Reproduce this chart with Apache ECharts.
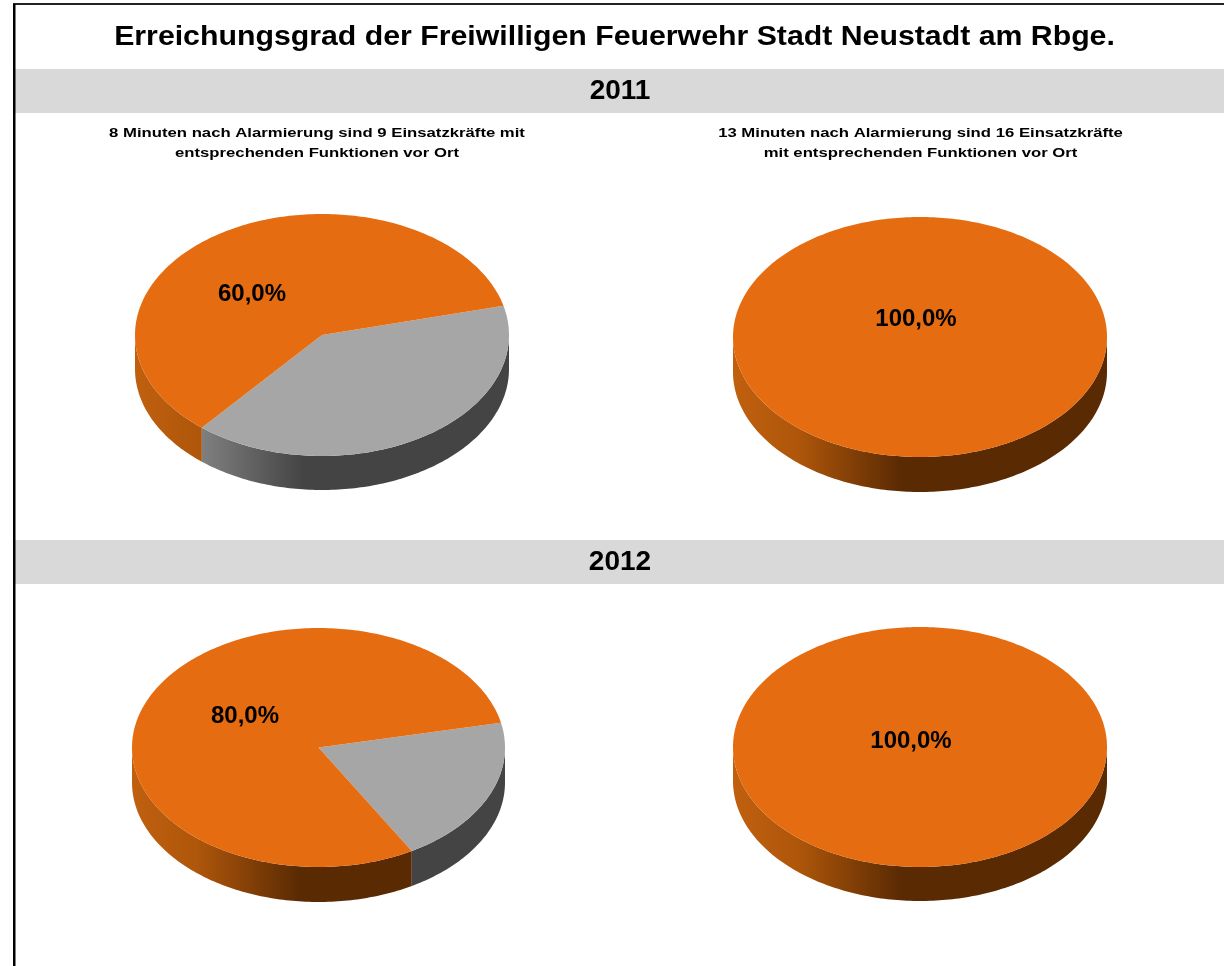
<!DOCTYPE html>
<html>
<head>
<meta charset="utf-8">
<style>html,body{margin:0;padding:0;background:#fff}#c{width:1224px;height:966px}</style>
<script src="https://cdn.jsdelivr.net/npm/echarts@6/dist/echarts.min.js"></script>
</head>
<body>
<div id="c"></div>
<script>
// ---- data ----
const chartTitle = 'Erreichungsgrad der Freiwilligen Feuerwehr Stadt Neustadt am Rbge.';
const years = ['2011', '2012'];
const captions = [
  ['8 Minuten nach Alarmierung sind 9 Einsatzkräfte mit', 'entsprechenden Funktionen vor Ort'],
  ['13 Minuten nach Alarmierung sind 16 Einsatzkräfte', 'mit entsprechenden Funktionen vor Ort']
];
const notReached = [40, 0, 20, 0];
const reached = [60, 100, 80, 100];

// ---- layout ----
const FONT = '"Liberation Sans", Arial, sans-serif';
const pieLayout = [
  {cx: 322, cy: 335, rx: 187, ry: 121, depth: 34, lx: 252, ly: 294, start: 76},
  {cx: 920, cy: 337, rx: 187, ry: 120, depth: 35, lx: 916, ly: 319, start: 76},
  {cx: 318.5, cy: 747.5, rx: 186.5, ry: 119.5, depth: 35, lx: 245, ly: 716, start: 78},
  {cx: 920, cy: 747, rx: 187, ry: 120, depth: 34, lx: 911, ly: 741, start: 78}
];
const sliceColors = [
  {top: '#A6A6A6', left: '#8C8C8C', mid: '#808080', dark: '#444444'},
  {top: '#E56C10', left: '#C0600F', mid: '#AE560A', dark: '#5A2A03'}
];

function ellipsePoint(p, deg, dy) {
  const a = deg * Math.PI / 180;
  return [p.cx + p.rx * Math.sin(a), p.cy - p.ry * Math.cos(a) + (dy || 0)];
}
function arc(p, from, to, dy) {
  const pts = [];
  const n = Math.max(1, Math.ceil(Math.abs(to - from)));
  for (let i = 0; i <= n; i++) pts.push(ellipsePoint(p, from + (to - from) * i / n, dy));
  return pts;
}

function makeRenderItem(pieIndex, rows) {
  const p = pieLayout[pieIndex];
  const total = rows.reduce((s, r) => s + r[1], 0);
  return function (params, api) {
    const idx = params.dataIndex;
    const v = api.value(1);
    if (!v) return null;
    let before = 0;
    for (let i = 0; i < idx; i++) before += rows[i][1];
    const s = p.start + before / total * 360;
    const e = s + v / total * 360;
    const col = sliceColors[api.value(0)];
    const children = [];
    const fs = Math.max(s, 90), fe = Math.min(e, 270);
    if (fe > fs) {
      const upper = arc(p, fs, fe, 0);
      const lower = arc(p, fe, fs, p.depth);
      children.push({
        type: 'polygon',
        shape: {points: upper.concat(lower)},
        style: {
          fill: new echarts.graphic.LinearGradient(p.cx - p.rx, 0, p.cx, 0, [
            {offset: 0, color: col.left},
            {offset: 0.35, color: col.mid},
            {offset: 0.9, color: col.dark},
            {offset: 1, color: col.dark}
          ], true)
        }
      });
    }
    const topPts = arc(p, s, e, 0);
    if (v < total) topPts.push([p.cx, p.cy]);
    children.push({type: 'polygon', shape: {points: topPts}, style: {fill: col.top}});
    if (api.value(0) === 1) {
      children.push({
        type: 'text', x: p.lx, y: p.ly, z2: 10,
        style: {
          text: v.toFixed(1).replace('.', ',') + '%',
          fill: '#000', font: 'bold 24px ' + FONT,
          textAlign: 'center', textVerticalAlign: 'middle'
        }
      });
    }
    return {type: 'group', children: children};
  };
}

const series = reached.map((r, i) => {
  const rows = [[0, notReached[i]], [1, r]];
  return {
    type: 'custom',
    coordinateSystem: 'none',
    silent: true,
    data: rows,
    renderItem: makeRenderItem(i, rows)
  };
});

function centeredText(text, x, y, size, sx) {
  return {
    type: 'text', x: x, y: y, scaleX: sx || 1, z: 5, silent: true,
    style: {text: text, fill: '#000', font: 'bold ' + size + 'px ' + FONT,
      textAlign: 'center', textVerticalAlign: 'middle'}
  };
}

const graphics = [
  {type: 'rect', z: 1, silent: true, shape: {x: 15, y: 69, width: 1209, height: 44}, style: {fill: '#D9D9D9'}},
  {type: 'rect', z: 1, silent: true, shape: {x: 15, y: 540, width: 1209, height: 44}, style: {fill: '#D9D9D9'}},
  {type: 'rect', z: 2, silent: true, shape: {x: 13, y: 3, width: 1211, height: 2}, style: {fill: '#222'}},
  {type: 'rect', z: 2, silent: true, shape: {x: 13, y: 4, width: 2.5, height: 962}, style: {fill: '#000'}},
  centeredText(chartTitle, 614.5, 37, 28, 1.081),
  centeredText(years[0], 620, 91, 28),
  centeredText(years[1], 620, 562, 28),
  centeredText(captions[0][0], 317, 133, 13, 1.285),
  centeredText(captions[0][1], 317, 153, 13, 1.285),
  centeredText(captions[1][0], 920.5, 133, 13, 1.285),
  centeredText(captions[1][1], 920.5, 153, 13, 1.285)
];

const chart = echarts.init(document.getElementById('c'), null, {renderer: 'canvas'});
chart.setOption({
  animation: false,
  backgroundColor: '#fff',
  graphic: graphics,
  series: series
});
</script>
</body>
</html>
